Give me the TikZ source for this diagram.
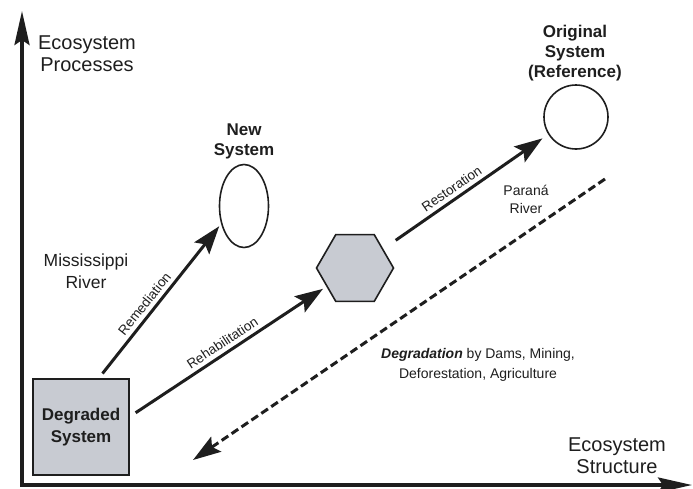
\documentclass[tikz,border=0pt]{standalone}
\usepackage{fontspec}
\setmainfont{Liberation Sans}
\usetikzlibrary{arrows.meta,shapes.geometric}
\definecolor{boxgray}{RGB}{200,203,210}
\definecolor{inkc}{RGB}{30,30,30}
\begin{document}
\begin{tikzpicture}[x=1pt,y=-1pt,
  every node/.style={text=inkc},
  axis/.style={line width=3.5pt,draw=inkc,-{Stealth[length=34pt,width=15pt,inset=5pt]}},
  arr/.style={line width=3pt,draw=inkc,-{Stealth[length=28pt,width=19pt,inset=5pt]}},
  dasharr/.style={line width=3pt,draw=inkc,dash pattern=on 8pt off 4pt,-{Stealth[length=28pt,width=18pt,inset=5pt]}},
  shp/.style={draw=inkc,line width=1.6pt,inner sep=0pt},
  axlabel/.style={align=center,font=\fontsize{20}{22}\selectfont},
  boldlabel/.style={align=center,font=\fontsize{17}{20}\selectfont\bfseries},
  arrlabel/.style={font=\fontsize{13.5}{16}\selectfont,sloped,above,inner sep=4pt},
  plainlabel/.style={align=center,font=\fontsize{17.5}{22}\selectfont}]
\useasboundingbox (0,0) rectangle (693,488);
% axes
\coordinate (O) at (22,485);
\coordinate (Ytip) at (22,11);
\coordinate (Xtip) at (692,485);
\draw[axis] (O) -- (Ytip);
\draw[axis] ([xshift=-1.75pt]O) -- (Xtip);
\node[axlabel] (ylab) at (87,54) {Ecosystem\\Processes};
\node[axlabel] (xlab) at (617,456) {Ecosystem\\Structure};
% shapes
\node[shp,fill=boxgray,rectangle,minimum width=96pt,minimum height=96pt,
      align=center,font=\fontsize{17}{22}\selectfont\bfseries] (deg) at (81,427) {Degraded\\System};
\node[shp,ellipse,minimum width=49pt,minimum height=83pt] (new) at (244,206) {};
\node[shp,fill=boxgray,regular polygon,regular polygon sides=6,minimum size=77pt] (hex) at (355,268) {};
\node[shp,circle,minimum size=64pt] (orig) at (576,117) {};
% labels
\node[boldlabel] (newlab) at (244,141) {New\\System};
\node[boldlabel] (origlab) at (575,53) {Original\\System\\(Reference)};
\node[plainlabel] (miss) at (86,271) {Mississippi\\River};
\node[align=center,font=\fontsize{14}{18}\selectfont] (parana) at (526,199) {Paraná\\River};
\node[align=center,font=\fontsize{14}{20}\selectfont] (degr) at (478,365)
  {\textbf{\textit{Degradation}} by Dams, Mining,\\Deforestation, Agriculture};
% arrows
\draw[arr,shorten <=6pt,shorten >=3pt] (deg.70) -- node[arrlabel,pos=0.44] {Remediation} (new.218);
\draw[arr,shorten <=7pt,shorten >=4pt] (deg.12) -- node[arrlabel] {Rehabilitation} (hex.213);
\draw[arr,shorten <=15pt,shorten >=7pt] (hex.34) -- node[arrlabel,pos=0.45] {Restoration} (orig.212);
\coordinate (dS) at (605,179);
\coordinate (dE) at (193,460);
\draw[dasharr] (dS) -- (dE);
\end{tikzpicture}
\end{document}
